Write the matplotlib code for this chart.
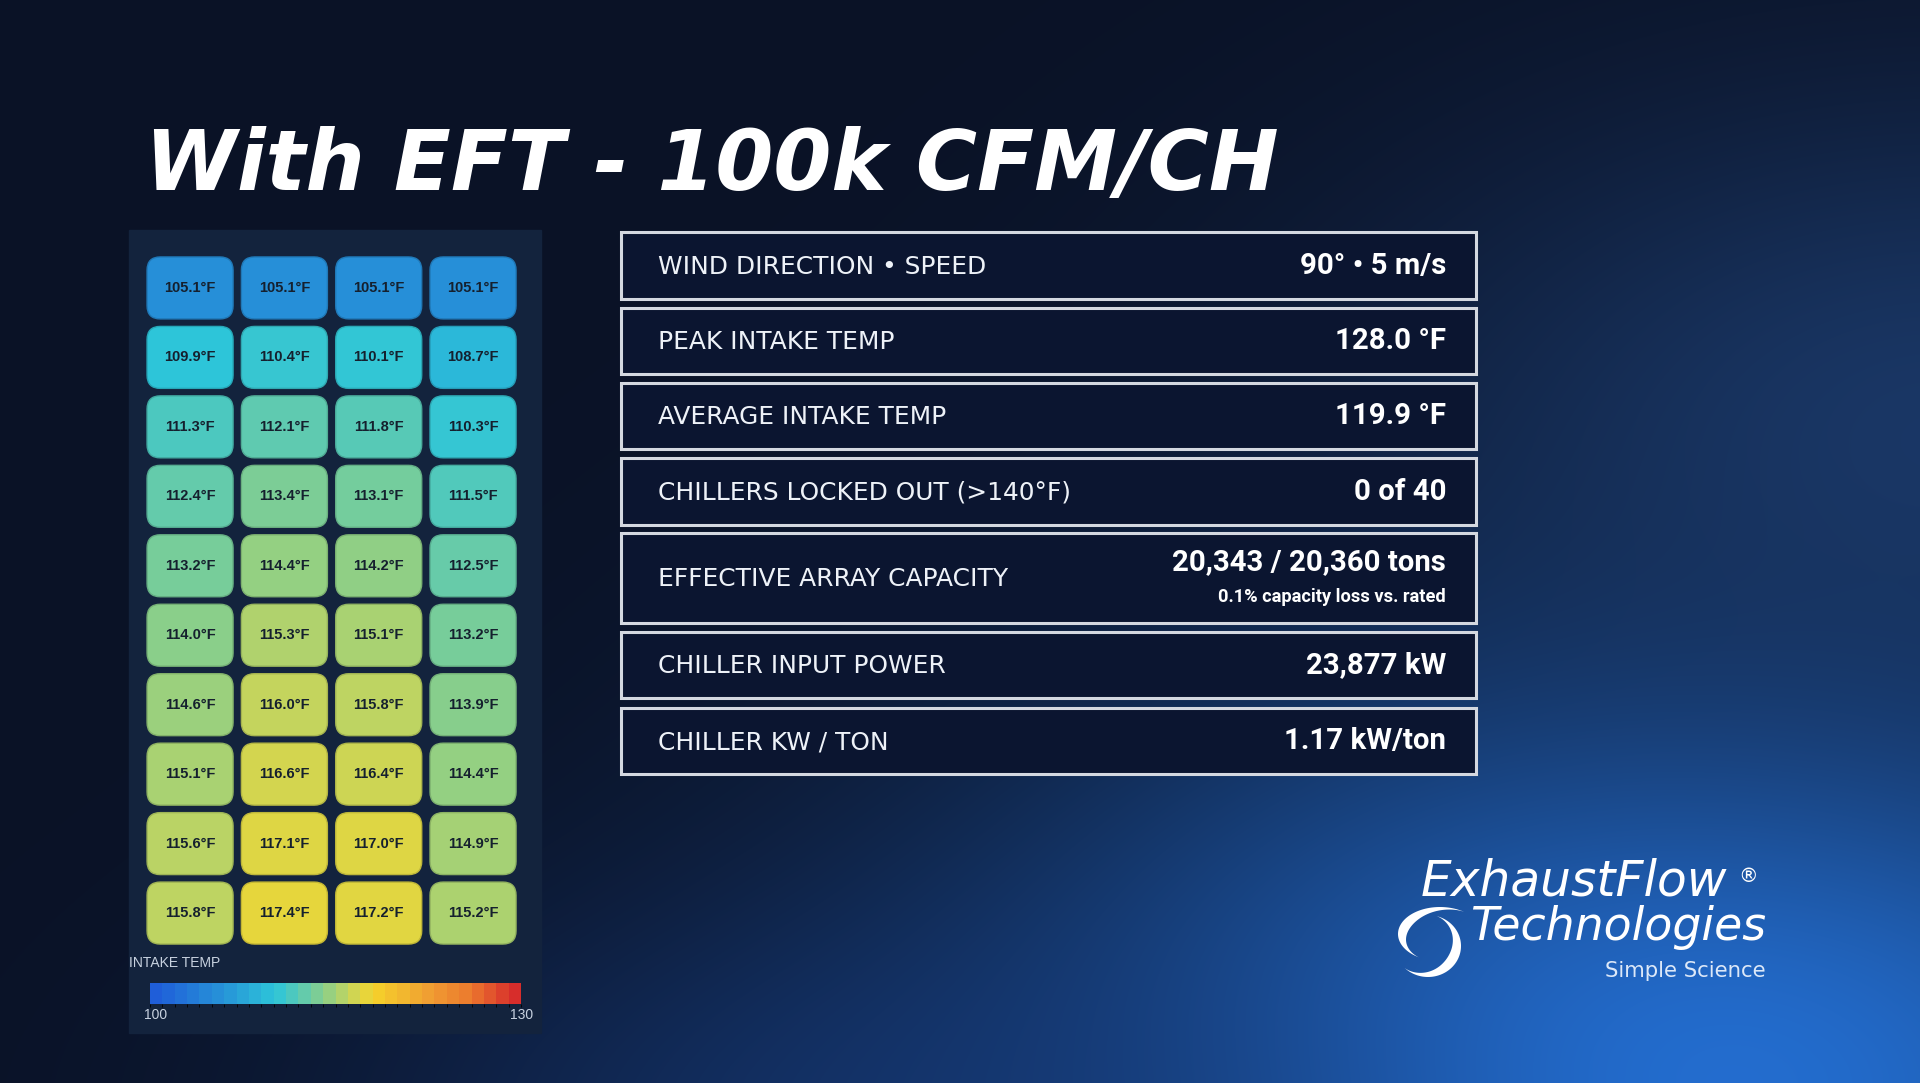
import numpy as np
import matplotlib
matplotlib.use("Agg")
import matplotlib.pyplot as plt
from matplotlib import font_manager
from matplotlib.colors import LinearSegmentedColormap, BoundaryNorm, Normalize, to_rgb
from matplotlib.patches import Rectangle, FancyBboxPatch, Polygon
from matplotlib.cm import ScalarMappable

# ---- data ----
title = "With EFT - 100k CFM/CH"

intake_temps = [
    [105.1, 105.1, 105.1, 105.1],
    [109.9, 110.4, 110.1, 108.7],
    [111.3, 112.1, 111.8, 110.3],
    [112.4, 113.4, 113.1, 111.5],
    [113.2, 114.4, 114.2, 112.5],
    [114.0, 115.3, 115.1, 113.2],
    [114.6, 116.0, 115.8, 113.9],
    [115.1, 116.6, 116.4, 114.4],
    [115.6, 117.1, 117.0, 114.9],
    [115.8, 117.4, 117.2, 115.2],
]
scale_min, scale_max = 100, 130
scale_label = "INTAKE TEMP"

stat_labels = [
    "WIND DIRECTION \u2022 SPEED",
    "PEAK INTAKE TEMP",
    "AVERAGE INTAKE TEMP",
    "CHILLERS LOCKED OUT (>140\u00b0F)",
    "EFFECTIVE ARRAY CAPACITY",
    "CHILLER INPUT POWER",
    "CHILLER KW / TON",
]
stat_values = [
    "90\u00b0 \u2022 5 m/s",
    "128.0 \u00b0F",
    "119.9 \u00b0F",
    "0 of 40",
    "20,343 / 20,360 tons",
    "23,877 kW",
    "1.17 kW/ton",
]
stat_notes = ["", "", "", "", "0.1% capacity loss vs. rated", "", ""]


def pick(names):
    for n in names:
        try:
            font_manager.findfont(font_manager.FontProperties(family=n),
                                  fallback_to_default=False)
            return n
        except ValueError:
            pass
    return "DejaVu Sans"


ARIAL = pick(["Liberation Sans", "DejaVu Sans"])
NARROW = pick(["Liberation Sans Narrow", "DejaVu Sans Condensed", "Roboto", "Open Sans"])

W, H = 1920, 1083
fig = plt.figure(figsize=(W / 100, H / 100), dpi=100)
renderer = fig.canvas.get_renderer()


def fit(t, width):
    bb = t.get_window_extent(renderer)
    t.set_fontsize(t.get_fontsize() * width / bb.width)


def fax(x0, y0, x1, y1):
    # axes placed in pixel coordinates (y measured from the top)
    return fig.add_axes([x0 / W, 1 - y1 / H, (x1 - x0) / W, (y1 - y0) / H])


# ---- background ----
ax = fig.add_axes([0, 0, 1, 1])
yy, xx = np.mgrid[0:H:2, 0:W:2].astype(float)
base = np.array(to_rgb("#0a1226"))
bg = np.ones(xx.shape + (3,)) * base
glows = [((1700, 1080), (700, 420), "#2470d4", 1.0),
         ((1950, 420), (560, 330), "#1c3c6e", 0.85),
         ((900, 1120), (520, 210), "#163a7a", 0.6)]
for (cx, cy), (sx, sy), col, s in glows:
    w = s * np.exp(-((xx - cx) / sx) ** 2 - ((yy - cy) / sy) ** 2)
    bg += w[..., None] * (np.array(to_rgb(col)) - bg)
ax.imshow(np.clip(bg, 0, 1), extent=(0, W, H, 0), aspect="auto", interpolation="bilinear")
ax.set_xlim(0, W)
ax.set_ylim(H, 0)
ax.axis("off")

# ---- title ----
t = ax.text(145, 190, title, color="white", fontsize=60, fontweight="bold",
            style="italic", family="DejaVu Sans", va="baseline", ha="left")
fit(t, 1135)

# ---- heatmap panel ----
ax.add_patch(Rectangle((129, 230), 412, 803, color="#13233d", zorder=1))

cmap = LinearSegmentedColormap.from_list("intake", [
    (0.00, "#1f5ed9"), (0.17, "#268fd8"), (0.33, "#2dc5d9"), (0.40, "#5ccab2"),
    (0.47, "#8ccf88"), (0.53, "#c2d45f"), (0.58, "#e6d63c"), (0.62, "#f5cd2b"),
    (0.75, "#f0a132"), (0.87, "#ec7a2e"), (1.00, "#d62b2b")])
norm = Normalize(scale_min, scale_max)

temps = np.array(intake_temps)
nrow, ncol = temps.shape
hm = fax(142.9, 253.2, 520.2, 947.8)
hm.set_xlim(-0.5, ncol - 0.5)
hm.set_ylim(nrow - 0.5, -0.5)
hm.axis("off")
cw, ch = 0.912, 0.892
for i in range(nrow):
    for j in range(ncol):
        v = temps[i, j]
        c = np.array(cmap(norm(v))[:3])
        hm.add_patch(FancyBboxPatch((j - cw / 2, i - ch / 2), cw, ch,
                                    boxstyle="round,pad=0,rounding_size=0.14",
                                    mutation_aspect=1.357, facecolor=c,
                                    edgecolor=c * 0.85, lw=1.0))
        hm.text(j, i, f"{v:.1f}\u00b0F", ha="center", va="center",
                fontsize=10.5, fontweight="bold", family=ARIAL, color="#15202e")

ax.text(129, 963, scale_label, color="#c8d2e0", fontsize=10, family=ARIAL,
        va="center", ha="left")
cax = fax(150, 983, 521, 1004)
steps = np.arange(scale_min, scale_max + 1)
cb = fig.colorbar(ScalarMappable(BoundaryNorm(steps, 256), cmap), cax=cax,
                  orientation="horizontal")
cb.set_ticks([])
cb.outline.set_visible(False)
ax.text(156, 1015, str(scale_min), color="#c8d2e0", fontsize=10, family=ARIAL,
        ha="center", va="center")
ax.text(522, 1015, str(scale_max), color="#c8d2e0", fontsize=10, family=ARIAL,
        ha="center", va="center")

# ---- stats table ----
row_tops = [232, 308, 383, 458, 533, 632, 708]
row_heights = [67, 66, 66, 67, 90, 66, 66]
lab_size = None
val_size = None
for k, (lab, val, note) in enumerate(zip(stat_labels, stat_values, stat_notes)):
    y0, h = row_tops[k], row_heights[k]
    ax.add_patch(Rectangle((621, y0), 855, h, facecolor="#0b1530",
                           edgecolor="#d4d8e0", lw=2.2, zorder=2))
    yc = y0 + h / 2
    tl = ax.text(658, yc + 1, lab, color="#eef2f8", fontsize=17, family="DejaVu Sans",
                 ha="left", va="center", zorder=3)
    if lab_size is None:
        fit(tl, 329)
        lab_size = tl.get_fontsize()
    else:
        tl.set_fontsize(lab_size)
    vy = yc - 16 if note else yc
    tv = ax.text(1446, vy, val, color="white", fontsize=22, fontweight="bold",
                 family=NARROW, ha="right", va="center", zorder=3)
    if val_size is None:
        fit(tv, 146)
        val_size = tv.get_fontsize()
    else:
        tv.set_fontsize(val_size)
    if note:
        ax.text(1446, yc + 19, note, color="white", fontsize=val_size * 0.62,
                fontweight="bold", family=NARROW, ha="right", va="center", zorder=3)

# ---- logo ----
t = ax.text(1421, 895, "ExhaustFlow", color="white", fontsize=24, family="DejaVu Sans",
            style="italic", va="baseline", ha="left")
fit(t, 307)
ax.text(1748, 877, "\u00ae", color="white", fontsize=14, family="DejaVu Sans",
        va="center", ha="center")
t = ax.text(1470, 940, "Technologies", color="white", fontsize=24, family="DejaVu Sans",
            style="italic", va="baseline", ha="left")
fit(t, 296)
t = ax.text(1605, 977, "Simple Science", color="#dce8f8", fontsize=14,
            family="DejaVu Sans", va="baseline", ha="left")
fit(t, 162)


def crescent(cx, cy, rx, ry, t0, t1, wmax):
    tt = np.radians(np.linspace(t0, t1, 80))
    w = wmax * np.sin(np.linspace(0, np.pi, 80)) ** 1.3
    outer = np.c_[cx + rx * np.cos(tt), cy + ry * np.sin(tt)]
    inner = np.c_[cx + (rx - w) * np.cos(tt), cy + (ry - w * ry / rx) * np.sin(tt)]
    return Polygon(np.vstack([outer, inner[::-1]]), closed=True, color="white", lw=0)


ax.add_patch(crescent(1440, 934, 42, 27, -55, -240, 11))
ax.add_patch(crescent(1428, 946, 33, 31, -75, 135, 10))

fig.savefig("out.png", dpi=100, facecolor="#0a1226")
